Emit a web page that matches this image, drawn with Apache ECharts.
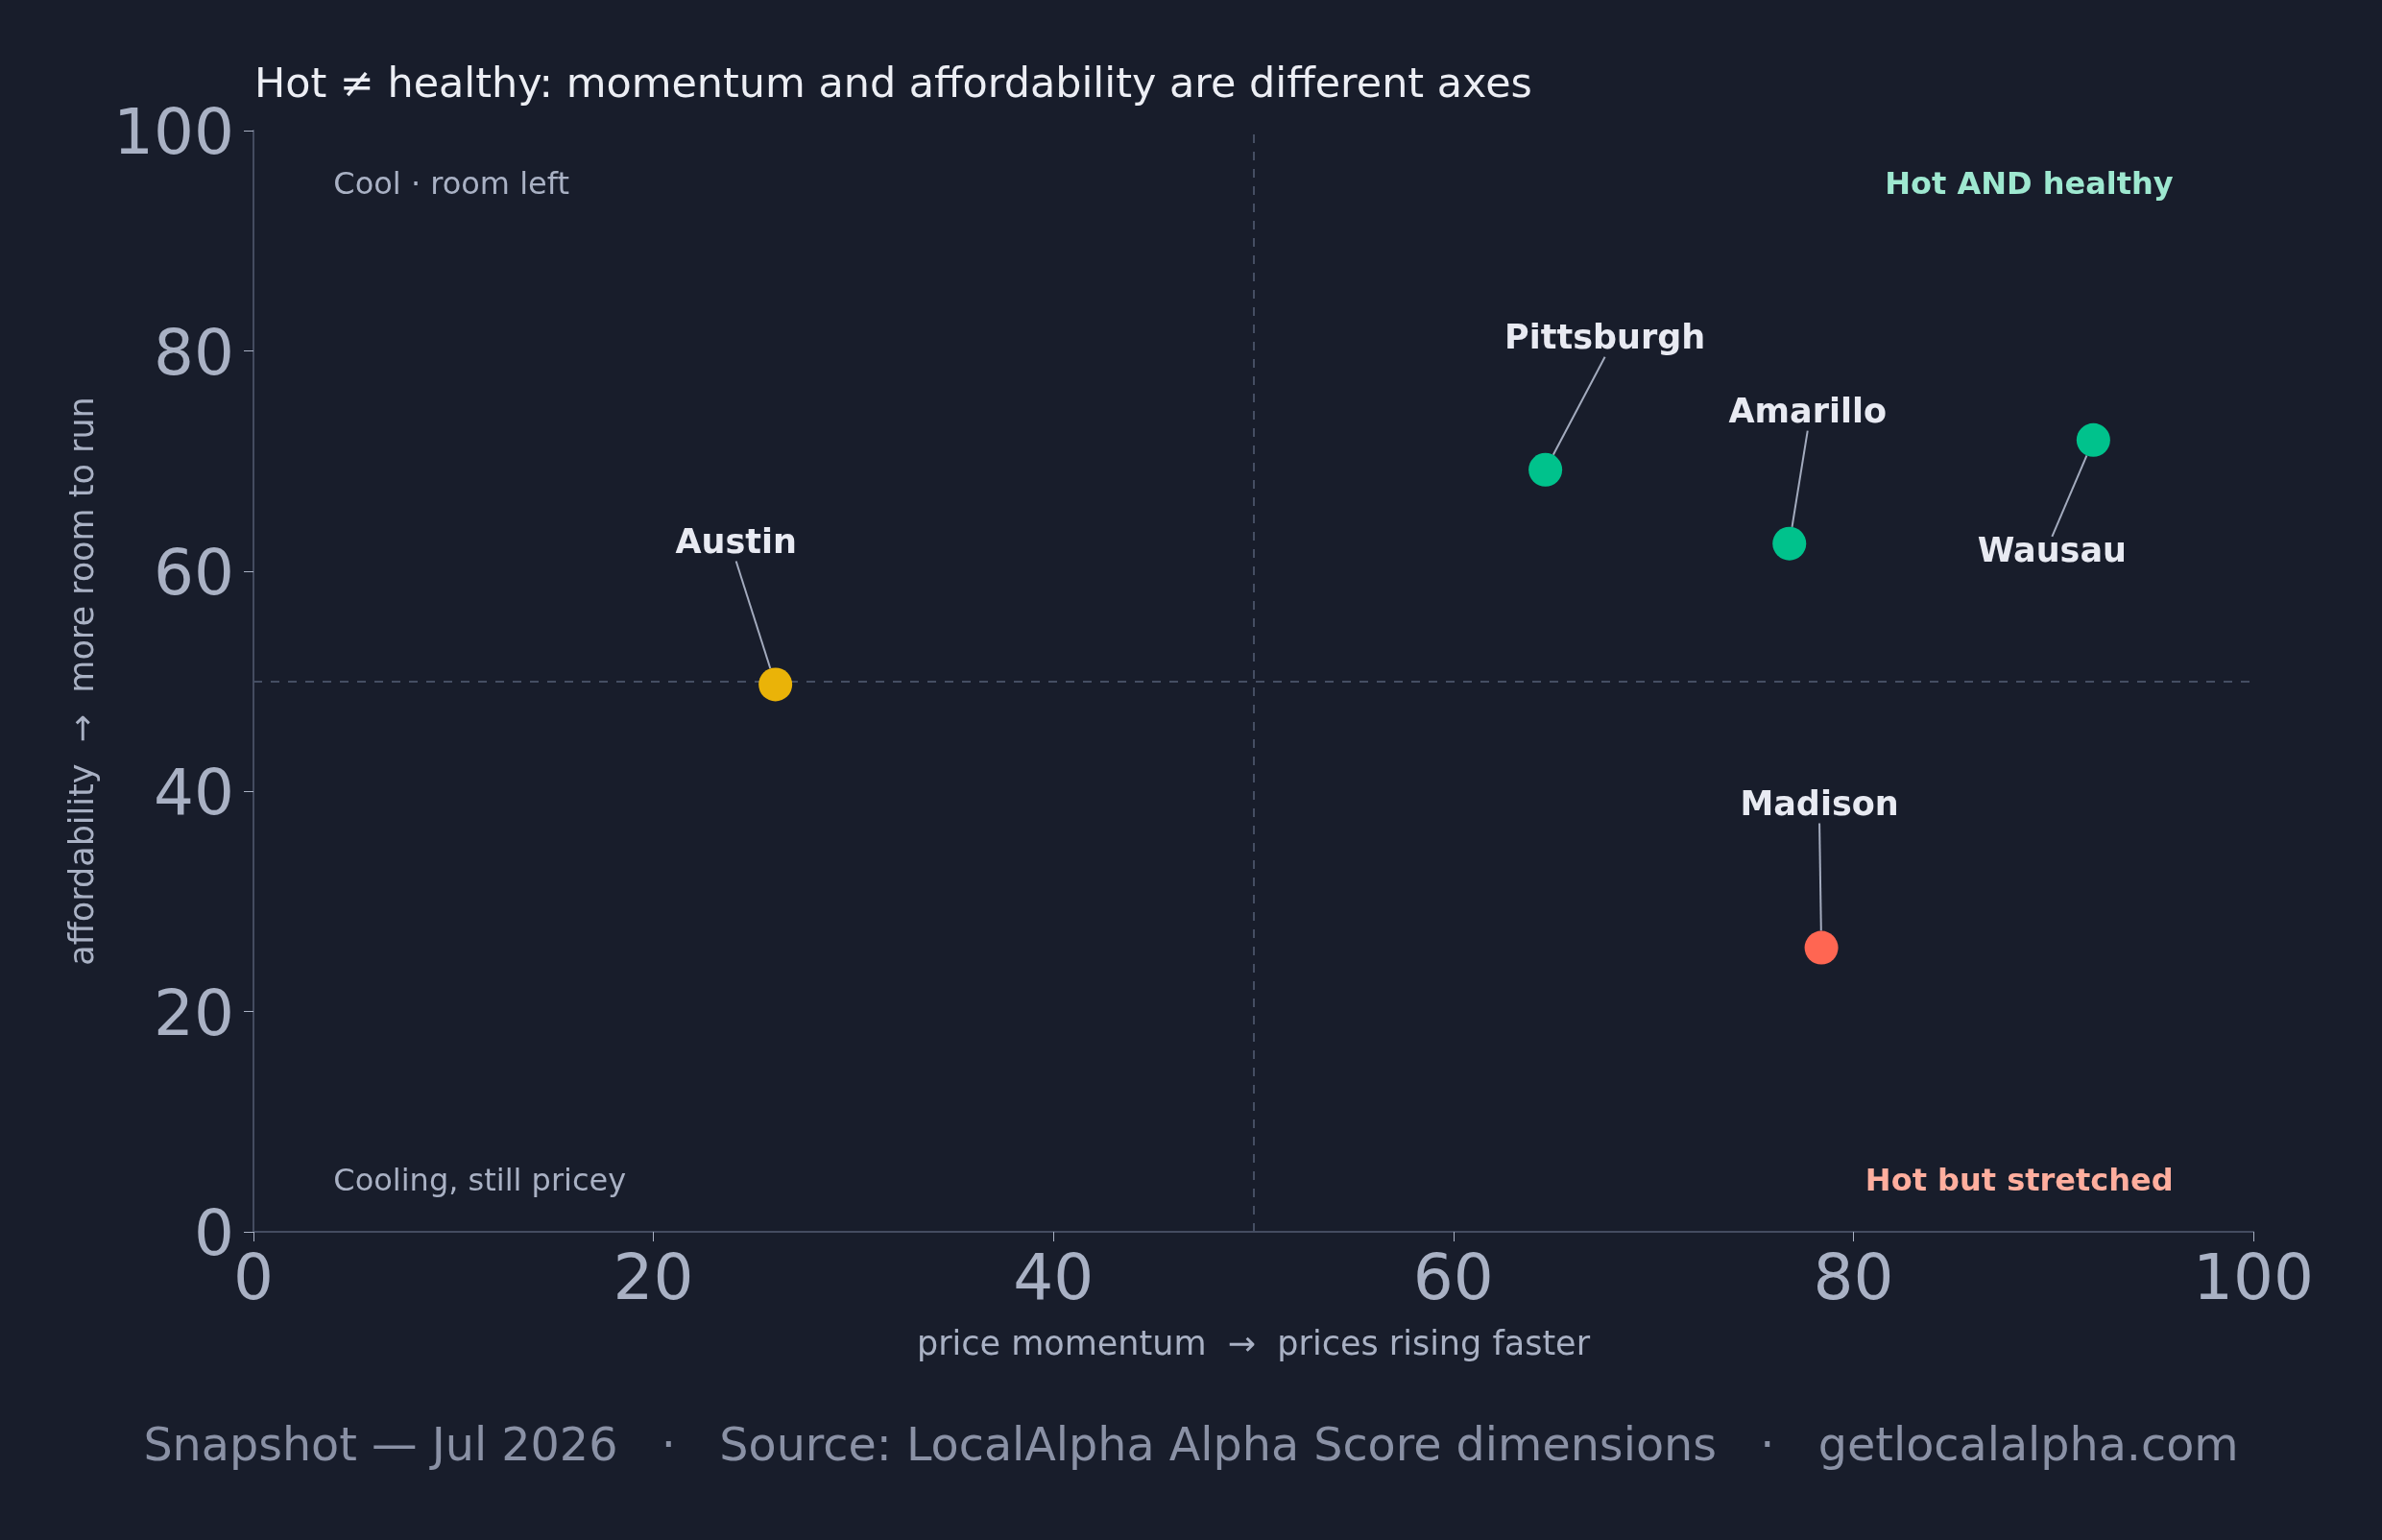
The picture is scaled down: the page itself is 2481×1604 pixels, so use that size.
<!DOCTYPE html>
<html>
<head>
<meta charset="utf-8">
<title>Hot vs healthy</title>
<script src="https://cdn.jsdelivr.net/npm/echarts@6/dist/echarts.min.js"></script>
<style>
  html, body { margin: 0; padding: 0; background: #181d2b; }
  #main { width: 2481px; height: 1604px; }
</style>
</head>
<body>
<div id="main"></div>
<script>
// metros: price momentum (x) vs affordability (y)
var cities = ['Austin', 'Pittsburgh', 'Amarillo', 'Wausau', 'Madison'];
var momentum = [26.1, 64.6, 76.8, 92.0, 78.4];
var afford = [49.7, 69.2, 62.5, 71.9, 25.8];
var groups = ['cool', 'healthy', 'healthy', 'healthy', 'stretched'];

var xTicks = [0, 20, 40, 60, 80, 100];
var yTicks = [0, 20, 40, 60, 80, 100];

// quadrant captions, placed in data space
var quadText = ['Cool · room left', 'Hot AND healthy', 'Cooling, still pricey', 'Hot but stretched'];
var quadX = [4, 96, 4, 96];
var quadY = [95, 95, 4.5, 4.5];

var FONT = '"DejaVu Sans", sans-serif';
var colorOf = { cool: '#eab308', healthy: '#00c28c', stretched: '#ff6652' };
var quadStyle = [
  { color: '#a9b1c4', fontWeight: 'normal', align: 'left' },
  { color: '#9ee8d0', fontWeight: 'bold', align: 'right' },
  { color: '#a9b1c4', fontWeight: 'normal', align: 'left' },
  { color: '#ffae9e', fontWeight: 'bold', align: 'right' }
];
// where each name label sits relative to its dot (px)
var labelShift = {
  Austin: [-41, -146],
  Pittsburgh: [62, -135],
  Amarillo: [19, -135],
  Wausau: [-43, 118],
  Madison: [-2, -147]
};

var myChart = echarts.init(document.getElementById('main'));

var pts = [];
for (var i = 0; i < cities.length; i++) {
  pts.push({
    name: cities[i],
    value: [momentum[i], afford[i]],
    itemStyle: { color: colorOf[groups[i]] }
  });
}

var quads = [];
for (var j = 0; j < quadText.length; j++) {
  quads.push({
    name: quadText[j],
    value: [quadX[j], quadY[j]],
    label: {
      color: quadStyle[j].color,
      fontWeight: quadStyle[j].fontWeight,
      align: quadStyle[j].align
    }
  });
}

function tickFmt(list) {
  return function (v) { return list.indexOf(v) >= 0 ? String(v) : ''; };
}

var option = {
  backgroundColor: '#181d2b',
  animation: false,
  textStyle: { fontFamily: FONT },
  title: [{
    text: 'Hot ≠ healthy: momentum and affordability are different axes',
    left: 260,
    top: 63,
    textStyle: { color: '#eceef4', fontSize: 42.9, fontWeight: 'normal', fontFamily: FONT }
  }, {
    text: 'Snapshot — Jul 2026   ·   Source: LocalAlpha Alpha Score dimensions   ·   getlocalalpha.com',
    left: 'center',
    top: 1480,
    textStyle: { color: '#8a91a5', fontSize: 47.6, fontWeight: 'normal', fontFamily: FONT }
  }],
  grid: { left: 264, right: 134, top: 136, bottom: 321 },
  xAxis: {
    type: 'value',
    min: 0, max: 100, interval: 20,
    name: 'price momentum  →  prices rising faster',
    nameLocation: 'middle',
    nameGap: 101,
    nameTextStyle: { color: '#a9b1c4', fontSize: 35, fontFamily: FONT },
    axisLine: { show: true, lineStyle: { color: '#444c60', width: 2 } },
    axisTick: { show: true, length: 10, lineStyle: { color: '#a9b1c4', width: 1 } },
    axisLabel: { color: '#a9b1c4', fontSize: 66, margin: 20, formatter: tickFmt(xTicks) },
    splitLine: { show: false }
  },
  yAxis: {
    type: 'value',
    min: 0, max: 100, interval: 20,
    name: 'affordability  →  more room to run',
    nameLocation: 'middle',
    nameGap: 159,
    nameTextStyle: { color: '#a9b1c4', fontSize: 35, fontFamily: FONT },
    axisLine: { show: true, lineStyle: { color: '#444c60', width: 2 } },
    axisTick: { show: true, length: 10, lineStyle: { color: '#a9b1c4', width: 1 } },
    axisLabel: {
      color: '#a9b1c4', fontSize: 66, margin: 20,
      formatter: function (v) { return yTicks.indexOf(v) >= 0 ? '{v|' + v + '}' : ''; },
      rich: { v: { color: '#a9b1c4', fontSize: 66, fontFamily: FONT, padding: [14, 0, 0, 0] } }
    },
    splitLine: { show: false }
  },
  series: [{
    name: 'quadrants',
    type: 'scatter',
    symbolSize: 0,
    silent: true,
    data: quads,
    itemStyle: { opacity: 1 },
    label: {
      show: true,
      position: 'inside',
      formatter: '{b}',
      fontSize: 32,
      fontFamily: FONT,
      opacity: 1
    },
    markLine: {
      silent: true,
      symbol: 'none',
      label: { show: false },
      lineStyle: { color: '#454e63', type: [9, 9], width: 2, opacity: 1 },
      data: [{ xAxis: 50 }, { yAxis: 50 }]
    }
  }, {
    name: 'metros',
    type: 'scatter',
    symbolSize: 35,
    data: pts,
    z: 5,
    itemStyle: { opacity: 1 },
    label: {
      show: true,
      position: 'inside',
      formatter: '{b}',
      color: '#e8eaf2',
      fontSize: 35,
      fontWeight: 'bold',
      fontFamily: FONT,
      opacity: 1,
      padding: [14, 6, 14, 6]
    },
    labelLine: {
      show: true,
      lineStyle: { color: '#a3abbe', width: 2, opacity: 1 }
    },
    labelLayout: function (p) {
      var s = labelShift[cities[p.dataIndex]] || [0, -60];
      return { dx: s[0], dy: s[1] };
    }
  }]
};

myChart.setOption(option);
</script>
</body>
</html>
